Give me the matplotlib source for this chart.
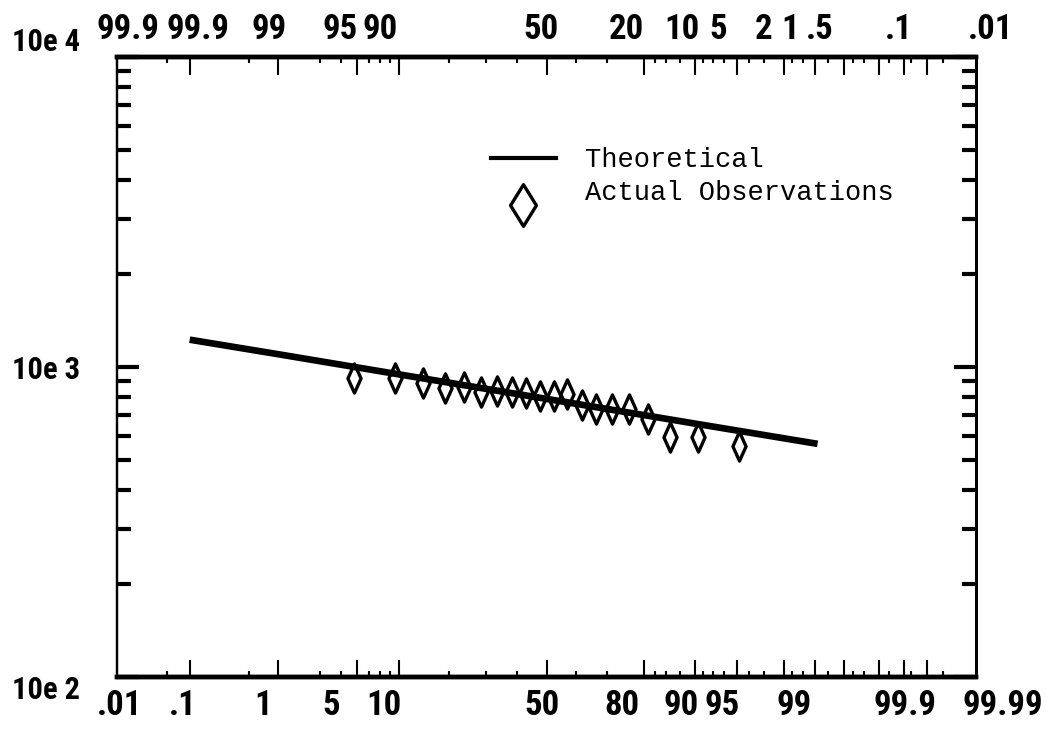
import numpy as np
import matplotlib
matplotlib.use("Agg")
import matplotlib.pyplot as plt
from matplotlib import font_manager
from matplotlib.lines import Line2D
from matplotlib.path import Path
from matplotlib.transforms import Affine2D
from matplotlib.ticker import FixedLocator, NullFormatter
from statistics import NormalDist

# plotting positions (percent) and observed values
obs_pct = [4.8, 9.5, 14.3, 19.0, 23.8, 28.6, 33.3, 38.1, 42.9, 47.6,
           52.4, 57.1, 61.9, 66.7, 71.4, 76.2, 81.0, 85.7, 90.5, 95.2]
obs_val = [921, 921, 888, 856, 862, 831, 836, 831, 824, 806,
           806, 818, 754, 732, 732, 732, 680, 595, 595, 556]

# theoretical line
theo_pct = [0.1, 1, 10, 50, 90, 99.05]
theo_val = [1225, 1100, 947, 789, 657, 565]

major_pct = [0.1, 1, 5, 10, 50, 80, 90, 95, 98, 99, 99.5, 99.8, 99.9, 99.95]
minor_pct = [0.05, 0.5, 2.5, 3.75, 6.25, 7.5, 8.75, 20, 30, 40, 60, 70,
             82.5, 85, 87.5, 91.25, 92.5, 93.75, 96, 97, 98.33, 98.67,
             99.25, 99.6, 99.7, 99.85, 99.92, 99.97]

bottom_pos = [0.01, 0.1, 1, 5, 10, 50, 80, 90, 95, 99, 99.9, 99.99]
bottom_lab = [".01", ".1", "1", "5", "10", "50", "80", "90", "95", "99", "99.9", "99.99"]
top_pos = [0.01, 0.1, 1, 5, 10, 50, 80, 90, 95, 98, 99, 99.5, 99.9, 99.99]
top_lab = ["99.9", "99.9", "99", "95", "90", "50", "20", "10", "5", "2", "1", ".5", ".1", ".01"]

y_pos = [100, 1000, 10000]
y_lab = ["10e 2", "10e 3", "10e 4"]

# horizontal nudges (px) of the plotter's labels relative to their ticks
bottom_dx = [3, -7, -15, -25, -15, -5, -22, -14, -15, -21, 1, 27]
top_dx = [11, 8, -9, -17, -18, -6, -17, -13, -18, -20, -25, -24, -5, 14]
y_dy = [-13, -3, 15]

ND = NormalDist()
_ppf = np.vectorize(ND.inv_cdf, otypes=[float])
_cdf = np.vectorize(ND.cdf, otypes=[float])


def fwd(p):
    p = np.clip(np.asarray(p, dtype=float), 1e-7, 100 - 1e-7)
    return _ppf(p / 100.0)


def inv(z):
    return _cdf(np.asarray(z, dtype=float)) * 100.0


installed = {f.name for f in font_manager.fontManager.ttflist}
label_family = next((f for f in ["Liberation Sans Narrow", "Roboto Condensed",
                                 "Open Sans Condensed", "Liberation Sans"]
                     if f in installed), "DejaVu Sans")
lab_kw = dict(fontfamily=[label_family, "DejaVu Sans"], fontweight="bold",
              fontstretch="condensed", fontsize=25)
px = 72 / 100  # points per pixel

fig = plt.figure(figsize=(10.46, 7.34), dpi=100)
ax = fig.add_axes([0.1119, 0.0777, 0.8214, 0.8446])

diamond = Path([(0, 1), (0.45, 0), (0, -1), (-0.45, 0), (0, 1)],
               [Path.MOVETO, Path.LINETO, Path.LINETO, Path.LINETO, Path.CLOSEPOLY])
diamond_leg = Path([(0, 1), (0.62, 0), (0, -1), (-0.62, 0), (0, 1)],
                   [Path.MOVETO, Path.LINETO, Path.LINETO, Path.LINETO, Path.CLOSEPOLY])

ax.plot(obs_pct, obs_val, linestyle="none", marker=diamond, markersize=21,
        markerfacecolor="white", markeredgecolor="black", markeredgewidth=2.4, zorder=2)
ax.plot(theo_pct, theo_val, color="black", linewidth=4.8, solid_capstyle="butt", zorder=3)

ax.set_xscale("function", functions=(fwd, inv))
ax.set_xlim(0.01, 99.99)
ax.set_yscale("log")
ax.set_ylim(100, 10000)

ax.xaxis.set_major_locator(FixedLocator(major_pct))
ax.xaxis.set_minor_locator(FixedLocator(minor_pct))
ax.xaxis.set_major_formatter(NullFormatter())
ax.xaxis.set_minor_formatter(NullFormatter())
ax.yaxis.set_major_locator(FixedLocator(y_pos))
ax.yaxis.set_major_formatter(NullFormatter())
ax.yaxis.set_minor_formatter(NullFormatter())

for p, lab, dx in zip(bottom_pos, bottom_lab, bottom_dx):
    ax.annotate(lab, xy=(p, 0), xycoords=("data", "axes fraction"),
                xytext=(dx * px, -12 * px), textcoords="offset points",
                ha="center", va="top", **lab_kw)

for v, lab, dy in zip(y_pos, y_lab, y_dy):
    ax.annotate(lab, xy=(0, v), xycoords=("axes fraction", "data"),
                xytext=(-37 * px, dy * px), textcoords="offset points",
                ha="right", va="center", **dict(lab_kw, fontsize=22))

ax.tick_params(axis="x", which="major", direction="in", length=12, width=1.5, top=False)
ax.tick_params(axis="x", which="minor", direction="in", length=4, width=1.5, top=False)
ax.tick_params(axis="y", which="major", direction="in", length=16, width=3, right=True)
ax.tick_params(axis="y", which="minor", direction="in", length=10, width=3, right=True)

ax2 = ax.twiny()
ax2.set_xscale("function", functions=(fwd, inv))
ax2.set_xlim(0.01, 99.99)
ax2.xaxis.set_major_locator(FixedLocator(major_pct))
ax2.xaxis.set_minor_locator(FixedLocator(minor_pct))
ax2.xaxis.set_major_formatter(NullFormatter())
ax2.xaxis.set_minor_formatter(NullFormatter())
ax2.tick_params(axis="x", which="major", direction="in", length=13, width=1.5)
ax2.tick_params(axis="x", which="minor", direction="in", length=4, width=1.5)
for p, lab, dx in zip(top_pos, top_lab, top_dx):
    ax2.annotate(lab, xy=(p, 1), xycoords=("data", "axes fraction"),
                 xytext=(dx * px, 11 * px), textcoords="offset points",
                 ha="center", va="bottom", **lab_kw)

for a in (ax, ax2):
    a.spines["bottom"].set_linewidth(3.2)
    a.spines["top"].set_linewidth(3.2)
    a.spines["left"].set_linewidth(1.6)
    a.spines["right"].set_linewidth(2)

handles = [Line2D([], [], color="black", linewidth=3),
           Line2D([], [], linestyle="none", marker=diamond_leg, markersize=30,
                  markerfacecolor="white", markeredgecolor="black", markeredgewidth=2.4)]
leg = ax.legend(handles, ["Theoretical", "Actual Observations"], loc="upper left",
                bbox_to_anchor=(0.419, 0.876), frameon=False, borderpad=0,
                handlelength=2.4, handletextpad=1.1, labelspacing=0.26,
                prop={"family": ["Liberation Mono", "DejaVu Sans Mono"], "size": 19.5})
mark = leg.legend_handles[1]
mark.set_transform(mark.get_transform() + Affine2D().translate(0, -14))

fig.savefig("out.png", dpi=100)
